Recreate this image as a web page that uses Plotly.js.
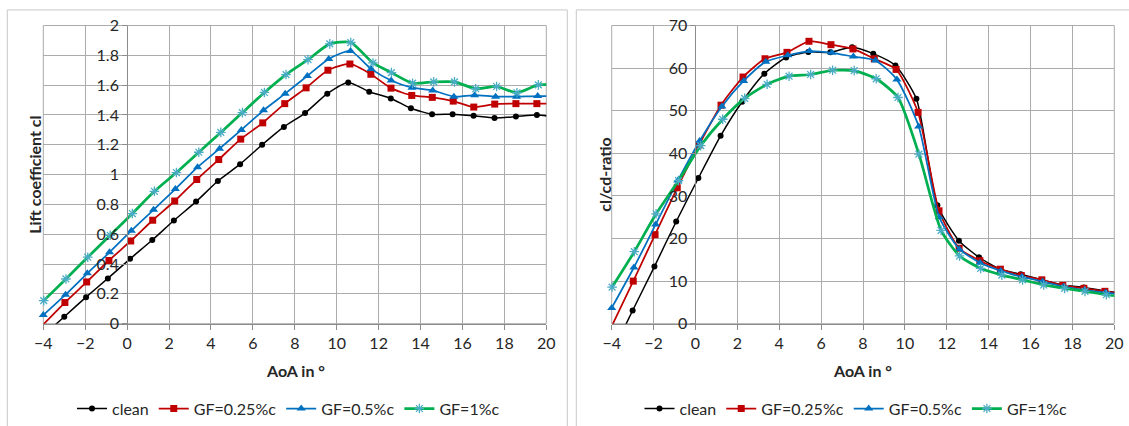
<!DOCTYPE html>
<html>
<head>
<meta charset="utf-8">
<script src="https://cdn.plot.ly/plotly-3.0.1.min.js"></script>
<style>html,body{margin:0;padding:0;background:#fff;}#chart{width:1129px;height:426px;}</style>
</head>
<body>
<div id="chart"></div>
<script>
// ---- Data ----
const seriesNames = ["clean", "GF=0.25%c", "GF=0.5%c", "GF=1%c"];

const aoaClean = [-4.0, -3.0, -1.96, -0.92, 0.14, 1.2, 2.23, 3.29, 4.33, 5.39, 6.44, 7.48, 8.49, 9.55, 10.55, 11.55, 12.58, 13.54, 14.55, 15.53, 16.53, 17.53, 18.55, 19.55, 20.55];
const aoaGF025 = [-4.0, -2.97, -1.93, -0.87, 0.17, 1.22, 2.27, 3.32, 4.37, 5.42, 6.47, 7.52, 8.54, 9.58, 10.63, 11.63, 12.59, 13.58, 14.56, 15.56, 16.54, 17.54, 18.55, 19.55, 20.55];
const aoaGF05  = [-4.0, -2.94, -1.9, -0.84, 0.2, 1.26, 2.3, 3.36, 4.41, 5.45, 6.51, 7.54, 8.6, 9.62, 10.66, 11.64, 12.6, 13.59, 14.58, 15.59, 16.58, 17.58, 18.58, 19.59, 20.6];
const aoaGF1   = [-3.98, -2.92, -1.88, -0.81, 0.25, 1.3, 2.35, 3.42, 4.47, 5.5, 6.55, 7.58, 8.63, 9.67, 10.67, 11.73, 12.61, 13.62, 14.63, 15.62, 16.63, 17.63, 18.6, 19.62, 20.6];

const clClean = [-0.08, 0.047, 0.178, 0.304, 0.435, 0.561, 0.692, 0.819, 0.957, 1.07, 1.2, 1.32, 1.413, 1.543, 1.618, 1.556, 1.511, 1.445, 1.405, 1.405, 1.394, 1.38, 1.389, 1.4, 1.385];
const clGF025 = [-0.005, 0.142, 0.28, 0.424, 0.555, 0.694, 0.823, 0.967, 1.101, 1.238, 1.347, 1.476, 1.582, 1.7, 1.742, 1.673, 1.58, 1.531, 1.518, 1.493, 1.453, 1.473, 1.476, 1.476, 1.475];
const clGF05  = [0.058, 0.195, 0.338, 0.479, 0.624, 0.764, 0.903, 1.05, 1.174, 1.3, 1.431, 1.543, 1.662, 1.776, 1.829, 1.709, 1.631, 1.583, 1.565, 1.523, 1.533, 1.523, 1.523, 1.527, 1.525];
const clGF1   = [0.155, 0.3, 0.446, 0.593, 0.739, 0.888, 1.014, 1.15, 1.283, 1.416, 1.551, 1.671, 1.771, 1.877, 1.886, 1.749, 1.684, 1.613, 1.622, 1.622, 1.576, 1.591, 1.549, 1.602, 1.6];

const ldClean = [-7.0, 3.1, 13.4, 24.0, 34.2, 44.1, 52.1, 58.7, 62.5, 63.8, 63.7, 64.9, 63.4, 60.6, 52.8, 27.8, 19.5, 15.6, 12.8, 11.6, 10.3, 9.1, 8.5, 7.7, 7.0];
const ldGF025 = [-0.6, 10.0, 20.9, 31.9, 42.0, 51.3, 57.9, 62.2, 63.7, 66.3, 65.5, 64.5, 62.2, 59.7, 49.6, 26.5, 17.7, 14.8, 12.8, 11.3, 10.3, 9.0, 8.3, 7.6, 7.0];
const ldGF05  = [3.7, 13.2, 23.3, 33.6, 42.9, 51.0, 57.0, 61.5, 63.0, 64.0, 63.6, 62.7, 61.8, 57.3, 46.3, 25.0, 17.5, 14.3, 12.4, 11.0, 9.9, 8.7, 7.9, 7.3, 6.8];
const ldGF1   = [8.6, 16.9, 25.8, 33.6, 41.8, 48.0, 52.9, 56.2, 58.1, 58.5, 59.5, 59.4, 57.5, 53.1, 39.8, 21.9, 15.9, 13.0, 11.4, 10.3, 9.1, 8.3, 7.6, 6.8, 6.3];

const xTickVals = [-4, -2, 0, 2, 4, 6, 8, 10, 12, 14, 16, 18, 20];
const clTickVals = [0, 0.2, 0.4, 0.6, 0.8, 1, 1.2, 1.4, 1.6, 1.8, 2];
const ldTickVals = [0, 10, 20, 30, 40, 50, 60, 70];

// ---- Layout helpers ----
const W = 1129, H = 426;
const fx = p => p / W;
const fy = p => 1 - p / H;
const FONT = "Lato, 'Open Sans', sans-serif";
const FS = 16;
const TXT = "#262626";
const GRID = "#ababab";

const styles = [
  {line: {color: "#000000", width: 1.5, shape: "spline", smoothing: 0.6}, marker: {symbol: "circle", size: 6, color: "#000000"}},
  {line: {color: "#C00000", width: 1.75, shape: "spline", smoothing: 0.6}, marker: {symbol: "square", size: 7, color: "#C00000"}},
  {line: {color: "#0070C0", width: 1.75, shape: "spline", smoothing: 0.6}, marker: {symbol: "triangle-up", size: 8, color: "#0070C0"}},
  {line: {color: "#00B050", width: 2.75, shape: "spline", smoothing: 0.6}, marker: {symbol: "asterisk-open", size: 8, color: "#4BACC6", line: {color: "#4BACC6", width: 1.3}}}
];

const xs = [aoaClean, aoaGF025, aoaGF05, aoaGF1];
const ysL = [clClean, clGF025, clGF05, clGF1];
const ysR = [ldClean, ldGF025, ldGF05, ldGF1];

const traces = [];
for (let i = 0; i < 4; i++) {
  traces.push(Object.assign({
    type: "scatter", mode: "lines+markers", name: seriesNames[i],
    x: xs[i], y: ysL[i], xaxis: "x", yaxis: "y", legend: "legend", cliponaxis: false
  }, JSON.parse(JSON.stringify(styles[i]))));
}
for (let i = 0; i < 4; i++) {
  traces.push(Object.assign({
    type: "scatter", mode: "lines+markers", name: seriesNames[i],
    x: xs[i], y: ysR[i], xaxis: "x2", yaxis: "y2", legend: "legend2", cliponaxis: false
  }, JSON.parse(JSON.stringify(styles[i]))));
}

const xdL = [fx(43.3), fx(546.3)];
const xdR = [fx(611.7), fx(1114.3)];
const yd = [fy(326), fy(25.7)];

function xAxis(dom, anchor) {
  return {
    domain: dom, anchor: anchor, range: [-4, 20], tickvals: xTickVals,
    showgrid: true, gridcolor: GRID, gridwidth: 1, zeroline: false,
    showline: true, linecolor: "#8c8c8c", linewidth: 1,
    ticks: "outside", ticklen: 5, tickcolor: "#8c8c8c",
    tickfont: {family: FONT, size: FS, color: TXT}, fixedrange: true
  };
}
function yAxis(dom, xdom, range, tv) {
  return {
    domain: yd, anchor: "free", position: xdom[0] + (xdom[1] - xdom[0]) / 6,
    range: range, tickvals: tv,
    showgrid: true, gridcolor: GRID, gridwidth: 1, zeroline: false,
    showline: true, linecolor: "#8c8c8c", linewidth: 1,
    ticks: "outside", ticklen: 5, tickcolor: "#8c8c8c",
    tickfont: {family: FONT, size: FS, color: TXT}, fixedrange: true
  };
}

const legendBase = {
  orientation: "h", xanchor: "center", yanchor: "middle", y: fy(411.5),
  font: {family: FONT, size: FS, color: TXT}, bgcolor: "rgba(0,0,0,0)",
  itemwidth: 30, tracegroupgap: 0, itemclick: false, itemdoubleclick: false
};

const layout = {
  width: W, height: H, margin: {l: 0, r: 0, t: 0, b: 0},
  paper_bgcolor: "#ffffff", plot_bgcolor: "#ffffff",
  showlegend: true,
  font: {family: FONT, color: TXT},
  xaxis: xAxis(xdL, "y"),
  yaxis: yAxis(yd, xdL, [0, 2], clTickVals),
  xaxis2: xAxis(xdR, "y2"),
  yaxis2: yAxis(yd, xdR, [0, 70], ldTickVals),
  legend: Object.assign({}, legendBase, {x: fx(288.5)}),
  legend2: Object.assign({}, legendBase, {x: fx(856)}),
  annotations: [
    {text: "<b>Lift coefficient cl</b>", xref: "paper", yref: "paper", x: fx(35), y: fy(176), textangle: -90, showarrow: false, xanchor: "center", yanchor: "middle", font: {family: FONT, size: FS, color: TXT}},
    {text: "<b>cl/cd-ratio</b>", xref: "paper", yref: "paper", x: fx(605), y: fy(176), textangle: -90, showarrow: false, xanchor: "center", yanchor: "middle", font: {family: FONT, size: FS, color: TXT}},
    {text: "<b>AoA in °</b>", xref: "paper", yref: "paper", x: fx(295), y: fy(373), showarrow: false, xanchor: "center", yanchor: "middle", font: {family: FONT, size: FS, color: TXT}},
    {text: "<b>AoA in °</b>", xref: "paper", yref: "paper", x: fx(863), y: fy(373), showarrow: false, xanchor: "center", yanchor: "middle", font: {family: FONT, size: FS, color: TXT}}
  ],
  shapes: [
    {type: "rect", xref: "paper", yref: "paper", x0: fx(7.3), x1: fx(567.3), y0: -0.2, y1: fy(10), line: {color: "#c8c8c8", width: 1}, layer: "below"},
    {type: "rect", xref: "paper", yref: "paper", x0: fx(576.3), x1: 1.2, y0: -0.2, y1: fy(10), line: {color: "#c8c8c8", width: 1}, layer: "below"},
    {type: "rect", xref: "x domain", yref: "y domain", x0: 0, x1: 1, y0: 0, y1: 1, line: {color: GRID, width: 1}, layer: "below"},
    {type: "rect", xref: "x2 domain", yref: "y2 domain", x0: 0, x1: 1, y0: 0, y1: 1, line: {color: GRID, width: 1}, layer: "below"}
  ]
};

Plotly.newPlot("chart", traces, layout, {displayModeBar: false, staticPlot: true});
</script>
</body>
</html>
